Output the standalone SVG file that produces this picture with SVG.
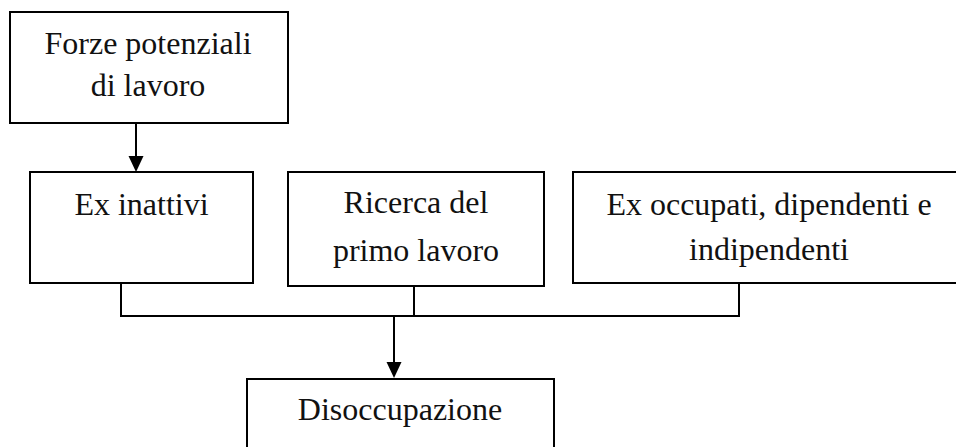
<svg xmlns="http://www.w3.org/2000/svg" width="956" height="447" viewBox="0 0 956 447">
<style>
.box{fill:#fff;stroke:#000;stroke-width:2}
.t{font-family:"Liberation Serif","Times New Roman",serif;font-size:32px;fill:#111;text-anchor:middle}
.c{fill:none;stroke:#000;stroke-width:2}
</style>
<defs>
<marker id="ah" markerWidth="15" markerHeight="16" refX="7.5" refY="16" orient="auto-start-reverse" markerUnits="userSpaceOnUse" viewBox="0 0 15 16">
<path d="M0,0 L15,0 L7.5,16 Z" fill="#000"/>
</marker>
</defs>
<rect width="956" height="447" fill="#fff"/>
<g id="n1">
<rect class="box" x="10" y="12" width="278" height="111"/>
<text class="t" x="148" y="54">Forze potenziali</text>
<text class="t" x="148" y="96">di lavoro</text>
</g>
<g id="n2">
<rect class="box" x="30" y="172" width="223" height="111"/>
<text class="t" x="141.5" y="215">Ex inattivi</text>
</g>
<g id="n3">
<rect class="box" x="288" y="172" width="256" height="114"/>
<text class="t" x="416" y="213">Ricerca del</text>
<text class="t" x="416" y="261">primo lavoro</text>
</g>
<g id="n4">
<rect class="box" x="573" y="172" width="392" height="111"/>
<text class="t" x="769" y="215">Ex occupati, dipendenti e</text>
<text class="t" x="769" y="260">indipendenti</text>
</g>
<g id="n5">
<rect class="box" x="247" y="379" width="307" height="90"/>
<text class="t" x="400" y="420">Disoccupazione</text>
</g>
<g id="connectors">
<path class="c" d="M136,123 V156" />
<path d="M128.5,156 L143.5,156 L136,172 Z" fill="#000"/>
<path class="c" d="M121,283 V316 M414,286 V316 M739,283 V316 M120,316 H740"/>
<path class="c" d="M394,316 V363"/>
<path d="M386.5,362 L401.5,362 L394,378 Z" fill="#000"/>
</g>
</svg>
